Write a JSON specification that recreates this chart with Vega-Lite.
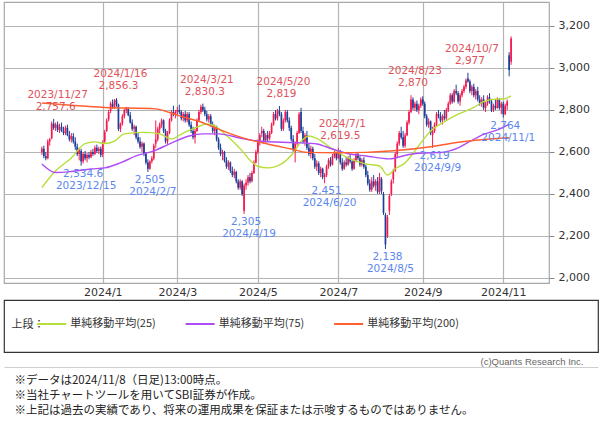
{
"$schema":"https://vega.github.io/schema/vega-lite/v6.json",
"background":"white",
"padding":{"left":3,"top":1,"right":0,"bottom":0},
"spacing":1,
"config":{"font":"DejaVu Sans"},
"title":{"text":["※データは2024/11/8（日足)13:00時点。","※当社チャートツールを用いてSBI証券が作成。","※上記は過去の実績であり、将来の運用成果を保証または示唆するものではありません。"],"orient":"bottom","anchor":"start","offset":7,"dx":11,"font":"Noto Sans CJK JP","fontSize":11.5,"fontWeight":"normal","color":"#222","lineHeight":15},
"datasets":{
"k":[
{"t":0,"o":2600,"h":2625,"l":2585,"c":2615},{"t":1,"o":2615,"h":2630,"l":2570,"c":2580},{"t":2,"o":2580,"h":2600,"l":2560,"c":2570},{"t":3,"o":2570,"h":2660,"l":2565,"c":2650},{"t":4,"o":2650,"h":2667,"l":2630,"c":2660},{"t":5,"o":2665,"h":2745,"l":2660,"c":2735},{"t":6,"o":2735,"h":2757.6,"l":2705,"c":2715},{"t":7,"o":2715,"h":2740,"l":2700,"c":2730},{"t":8,"o":2730,"h":2745,"l":2695,"c":2705},{"t":9,"o":2705,"h":2735,"l":2690,"c":2720},
{"t":10,"o":2720,"h":2740,"l":2695,"c":2700},{"t":11,"o":2700,"h":2720,"l":2680,"c":2690},{"t":12,"o":2690,"h":2725,"l":2680,"c":2715},{"t":13,"o":2715,"h":2730,"l":2675,"c":2680},{"t":14,"o":2680,"h":2700,"l":2650,"c":2660},{"t":15,"o":2660,"h":2690,"l":2645,"c":2675},{"t":16,"o":2675,"h":2690,"l":2640,"c":2650},{"t":17,"o":2650,"h":2670,"l":2610,"c":2625},{"t":18,"o":2625,"h":2640,"l":2580,"c":2590},{"t":19,"o":2590,"h":2620,"l":2560,"c":2610},
{"t":20,"o":2605,"h":2615,"l":2534.6,"c":2555},{"t":21,"o":2555,"h":2600,"l":2545,"c":2590},{"t":22,"o":2590,"h":2605,"l":2560,"c":2570},{"t":23,"o":2570,"h":2595,"l":2550,"c":2585},{"t":24,"o":2585,"h":2600,"l":2565,"c":2575},{"t":25,"o":2575,"h":2610,"l":2570,"c":2600},{"t":26,"o":2600,"h":2615,"l":2580,"c":2590},{"t":27,"o":2590,"h":2630,"l":2585,"c":2620},{"t":28,"o":2620,"h":2635,"l":2595,"c":2605},{"t":29,"o":2605,"h":2625,"l":2590,"c":2615},
{"t":30,"o":2615,"h":2625,"l":2575,"c":2585},{"t":31,"o":2590,"h":2655,"l":2575,"c":2645},{"t":32,"o":2650,"h":2705,"l":2640,"c":2695},{"t":33,"o":2700,"h":2760,"l":2695,"c":2750},{"t":34,"o":2755,"h":2800,"l":2745,"c":2790},{"t":35,"o":2795,"h":2840,"l":2785,"c":2830},{"t":36,"o":2830,"h":2850,"l":2805,"c":2815},{"t":37,"o":2815,"h":2852,"l":2805,"c":2845},{"t":38,"o":2848,"h":2856.3,"l":2815,"c":2825},{"t":39,"o":2825,"h":2830,"l":2700,"c":2710},
{"t":40,"o":2710,"h":2740,"l":2695,"c":2735},{"t":41,"o":2735,"h":2780,"l":2725,"c":2770},{"t":42,"o":2770,"h":2805,"l":2760,"c":2800},{"t":43,"o":2800,"h":2815,"l":2785,"c":2810},{"t":44,"o":2805,"h":2812,"l":2770,"c":2775},{"t":45,"o":2775,"h":2790,"l":2735,"c":2740},{"t":46,"o":2740,"h":2755,"l":2700,"c":2710},{"t":47,"o":2710,"h":2730,"l":2680,"c":2720},{"t":48,"o":2720,"h":2725,"l":2660,"c":2670},{"t":49,"o":2670,"h":2690,"l":2640,"c":2650},
{"t":50,"o":2650,"h":2670,"l":2615,"c":2625},{"t":51,"o":2625,"h":2650,"l":2600,"c":2640},{"t":52,"o":2640,"h":2645,"l":2580,"c":2590},{"t":53,"o":2590,"h":2600,"l":2540,"c":2550},{"t":54,"o":2550,"h":2565,"l":2505,"c":2520},{"t":55,"o":2520,"h":2560,"l":2515,"c":2555},{"t":56,"o":2555,"h":2580,"l":2545,"c":2570},{"t":57,"o":2570,"h":2640,"l":2560,"c":2630},{"t":58,"o":2640,"h":2750,"l":2620,"c":2660},{"t":59,"o":2660,"h":2720,"l":2650,"c":2710},
{"t":60,"o":2710,"h":2740,"l":2690,"c":2730},{"t":61,"o":2730,"h":2760,"l":2715,"c":2750},{"t":62,"o":2750,"h":2755,"l":2690,"c":2700},{"t":63,"o":2700,"h":2710,"l":2640,"c":2650},{"t":64,"o":2650,"h":2700,"l":2635,"c":2690},{"t":65,"o":2690,"h":2760,"l":2685,"c":2750},{"t":66,"o":2750,"h":2800,"l":2745,"c":2790},{"t":67,"o":2790,"h":2820,"l":2770,"c":2780},{"t":68,"o":2780,"h":2800,"l":2760,"c":2790},{"t":69,"o":2790,"h":2815,"l":2770,"c":2800},
{"t":70,"o":2800,"h":2825,"l":2780,"c":2790},{"t":71,"o":2790,"h":2800,"l":2750,"c":2760},{"t":72,"o":2760,"h":2790,"l":2745,"c":2780},{"t":73,"o":2780,"h":2795,"l":2740,"c":2750},{"t":74,"o":2750,"h":2790,"l":2740,"c":2780},{"t":75,"o":2780,"h":2790,"l":2720,"c":2730},{"t":76,"o":2730,"h":2745,"l":2690,"c":2700},{"t":77,"o":2700,"h":2720,"l":2660,"c":2670},{"t":78,"o":2670,"h":2710,"l":2640,"c":2700},{"t":79,"o":2700,"h":2760,"l":2695,"c":2750},
{"t":80,"o":2750,"h":2800,"l":2745,"c":2790},{"t":81,"o":2790,"h":2825,"l":2780,"c":2815},{"t":82,"o":2815,"h":2830.3,"l":2790,"c":2800},{"t":83,"o":2800,"h":2815,"l":2770,"c":2780},{"t":84,"o":2780,"h":2795,"l":2745,"c":2755},{"t":85,"o":2755,"h":2780,"l":2740,"c":2770},{"t":86,"o":2770,"h":2780,"l":2720,"c":2730},{"t":87,"o":2730,"h":2745,"l":2690,"c":2700},{"t":88,"o":2700,"h":2730,"l":2680,"c":2720},{"t":89,"o":2720,"h":2725,"l":2650,"c":2660},
{"t":90,"o":2660,"h":2670,"l":2610,"c":2620},{"t":91,"o":2620,"h":2640,"l":2580,"c":2590},{"t":92,"o":2590,"h":2610,"l":2560,"c":2600},{"t":93,"o":2600,"h":2605,"l":2550,"c":2560},{"t":94,"o":2560,"h":2575,"l":2520,"c":2530},{"t":95,"o":2530,"h":2560,"l":2515,"c":2550},{"t":96,"o":2550,"h":2555,"l":2500,"c":2510},{"t":97,"o":2510,"h":2530,"l":2480,"c":2490},{"t":98,"o":2490,"h":2520,"l":2475,"c":2505},{"t":99,"o":2505,"h":2510,"l":2450,"c":2460},
{"t":100,"o":2460,"h":2470,"l":2420,"c":2430},{"t":101,"o":2430,"h":2470,"l":2420,"c":2460},{"t":102,"o":2460,"h":2465,"l":2390,"c":2400},{"t":103,"o":2320,"h":2450,"l":2305,"c":2440},{"t":104,"o":2440,"h":2470,"l":2420,"c":2455},{"t":105,"o":2455,"h":2490,"l":2440,"c":2480},{"t":106,"o":2480,"h":2500,"l":2450,"c":2460},{"t":107,"o":2460,"h":2510,"l":2455,"c":2500},{"t":108,"o":2500,"h":2560,"l":2495,"c":2550},{"t":109,"o":2550,"h":2610,"l":2545,"c":2600},
{"t":110,"o":2600,"h":2660,"l":2590,"c":2650},{"t":111,"o":2650,"h":2690,"l":2630,"c":2680},{"t":112,"o":2690,"h":2720,"l":2670,"c":2700},{"t":113,"o":2700,"h":2710,"l":2640,"c":2655},{"t":114,"o":2655,"h":2690,"l":2640,"c":2680},{"t":115,"o":2680,"h":2700,"l":2650,"c":2665},{"t":116,"o":2665,"h":2700,"l":2655,"c":2690},{"t":117,"o":2690,"h":2740,"l":2685,"c":2730},{"t":118,"o":2730,"h":2790,"l":2725,"c":2780},{"t":119,"o":2780,"h":2800,"l":2750,"c":2760},
{"t":120,"o":2760,"h":2805,"l":2750,"c":2795},{"t":121,"o":2795,"h":2819,"l":2770,"c":2780},{"t":122,"o":2780,"h":2790,"l":2700,"c":2710},{"t":123,"o":2710,"h":2760,"l":2700,"c":2750},{"t":124,"o":2750,"h":2800,"l":2740,"c":2790},{"t":125,"o":2790,"h":2800,"l":2740,"c":2750},{"t":126,"o":2750,"h":2765,"l":2700,"c":2715},{"t":127,"o":2715,"h":2725,"l":2650,"c":2660},{"t":128,"o":2660,"h":2680,"l":2600,"c":2610},{"t":129,"o":2600,"h":2650,"l":2550,"c":2640},
{"t":130,"o":2640,"h":2700,"l":2630,"c":2690},{"t":131,"o":2690,"h":2790,"l":2685,"c":2780},{"t":132,"o":2790,"h":2810,"l":2690,"c":2700},{"t":133,"o":2700,"h":2720,"l":2640,"c":2650},{"t":134,"o":2650,"h":2690,"l":2630,"c":2680},{"t":135,"o":2680,"h":2700,"l":2610,"c":2620},{"t":136,"o":2620,"h":2640,"l":2580,"c":2590},{"t":137,"o":2590,"h":2630,"l":2570,"c":2615},{"t":138,"o":2615,"h":2625,"l":2560,"c":2570},{"t":139,"o":2570,"h":2590,"l":2520,"c":2530},
{"t":140,"o":2530,"h":2560,"l":2510,"c":2545},{"t":141,"o":2545,"h":2555,"l":2490,"c":2500},{"t":142,"o":2500,"h":2530,"l":2480,"c":2520},{"t":143,"o":2520,"h":2525,"l":2470,"c":2480},{"t":144,"o":2480,"h":2500,"l":2451,"c":2490},{"t":145,"o":2490,"h":2540,"l":2480,"c":2530},{"t":146,"o":2530,"h":2570,"l":2520,"c":2560},{"t":147,"o":2560,"h":2575,"l":2530,"c":2540},{"t":148,"o":2540,"h":2590,"l":2535,"c":2580},{"t":149,"o":2580,"h":2610,"l":2570,"c":2600},
{"t":150,"o":2600,"h":2605,"l":2560,"c":2570},{"t":151,"o":2570,"h":2619.5,"l":2565,"c":2605},{"t":152,"o":2605,"h":2610,"l":2540,"c":2550},{"t":153,"o":2550,"h":2570,"l":2510,"c":2520},{"t":154,"o":2520,"h":2560,"l":2515,"c":2550},{"t":155,"o":2550,"h":2575,"l":2530,"c":2540},{"t":156,"o":2540,"h":2580,"l":2535,"c":2570},{"t":157,"o":2570,"h":2590,"l":2545,"c":2555},{"t":158,"o":2555,"h":2560,"l":2510,"c":2520},{"t":159,"o":2520,"h":2570,"l":2515,"c":2560},
{"t":160,"o":2560,"h":2600,"l":2550,"c":2590},{"t":161,"o":2590,"h":2600,"l":2560,"c":2570},{"t":162,"o":2570,"h":2580,"l":2530,"c":2540},{"t":163,"o":2540,"h":2570,"l":2530,"c":2560},{"t":164,"o":2560,"h":2575,"l":2520,"c":2530},{"t":165,"o":2530,"h":2540,"l":2480,"c":2490},{"t":166,"o":2490,"h":2510,"l":2440,"c":2450},{"t":167,"o":2450,"h":2470,"l":2410,"c":2420},{"t":168,"o":2420,"h":2480,"l":2410,"c":2460},{"t":169,"o":2460,"h":2490,"l":2430,"c":2440},
{"t":170,"o":2440,"h":2470,"l":2415,"c":2460},{"t":171,"o":2460,"h":2480,"l":2400,"c":2410},{"t":172,"o":2410,"h":2500,"l":2400,"c":2480},{"t":173,"o":2470,"h":2480,"l":2400,"c":2415},{"t":174,"o":2400,"h":2410,"l":2300,"c":2310},{"t":175,"o":2300,"h":2310,"l":2138,"c":2160},{"t":176,"o":2200,"h":2300,"l":2190,"c":2290},{"t":177,"o":2320,"h":2400,"l":2300,"c":2390},{"t":178,"o":2400,"h":2470,"l":2390,"c":2460},{"t":179,"o":2470,"h":2520,"l":2450,"c":2510},
{"t":180,"o":2510,"h":2600,"l":2505,"c":2590},{"t":181,"o":2590,"h":2650,"l":2575,"c":2640},{"t":182,"o":2640,"h":2700,"l":2630,"c":2690},{"t":183,"o":2690,"h":2720,"l":2660,"c":2670},{"t":184,"o":2670,"h":2700,"l":2620,"c":2630},{"t":185,"o":2630,"h":2690,"l":2620,"c":2680},{"t":186,"o":2680,"h":2750,"l":2675,"c":2740},{"t":187,"o":2740,"h":2800,"l":2730,"c":2790},{"t":188,"o":2790,"h":2870,"l":2785,"c":2850},{"t":189,"o":2850,"h":2860,"l":2800,"c":2810},
{"t":190,"o":2810,"h":2840,"l":2795,"c":2830},{"t":191,"o":2830,"h":2845,"l":2790,"c":2800},{"t":192,"o":2800,"h":2830,"l":2780,"c":2820},{"t":193,"o":2820,"h":2860,"l":2810,"c":2850},{"t":194,"o":2850,"h":2865,"l":2820,"c":2830},{"t":195,"o":2830,"h":2840,"l":2760,"c":2770},{"t":196,"o":2770,"h":2780,"l":2720,"c":2730},{"t":197,"o":2730,"h":2760,"l":2715,"c":2745},{"t":198,"o":2745,"h":2750,"l":2680,"c":2690},{"t":199,"o":2680,"h":2720,"l":2619,"c":2700},
{"t":200,"o":2700,"h":2740,"l":2690,"c":2730},{"t":201,"o":2730,"h":2790,"l":2720,"c":2780},{"t":202,"o":2780,"h":2800,"l":2760,"c":2770},{"t":203,"o":2770,"h":2790,"l":2740,"c":2750},{"t":204,"o":2750,"h":2780,"l":2730,"c":2770},{"t":205,"o":2770,"h":2800,"l":2750,"c":2760},{"t":206,"o":2760,"h":2810,"l":2750,"c":2800},{"t":207,"o":2800,"h":2840,"l":2790,"c":2830},{"t":208,"o":2830,"h":2880,"l":2825,"c":2870},{"t":209,"o":2870,"h":2880,"l":2830,"c":2840},
{"t":210,"o":2840,"h":2900,"l":2835,"c":2890},{"t":211,"o":2890,"h":2920,"l":2870,"c":2880},{"t":212,"o":2880,"h":2890,"l":2830,"c":2840},{"t":213,"o":2840,"h":2880,"l":2820,"c":2870},{"t":214,"o":2870,"h":2900,"l":2860,"c":2890},{"t":215,"o":2890,"h":2920,"l":2880,"c":2910},{"t":216,"o":2910,"h":2950,"l":2900,"c":2940},{"t":217,"o":2950,"h":2977,"l":2930,"c":2935},{"t":218,"o":2935,"h":2945,"l":2880,"c":2890},{"t":219,"o":2890,"h":2920,"l":2870,"c":2910},
{"t":220,"o":2910,"h":2925,"l":2860,"c":2870},{"t":221,"o":2870,"h":2900,"l":2850,"c":2890},{"t":222,"o":2890,"h":2910,"l":2840,"c":2850},{"t":223,"o":2850,"h":2870,"l":2820,"c":2830},{"t":224,"o":2830,"h":2860,"l":2815,"c":2850},{"t":225,"o":2850,"h":2870,"l":2800,"c":2810},{"t":226,"o":2810,"h":2840,"l":2790,"c":2830},{"t":227,"o":2830,"h":2870,"l":2820,"c":2860},{"t":228,"o":2860,"h":2880,"l":2830,"c":2840},{"t":229,"o":2840,"h":2850,"l":2790,"c":2800},
{"t":230,"o":2800,"h":2830,"l":2790,"c":2820},{"t":231,"o":2820,"h":2850,"l":2800,"c":2810},{"t":232,"o":2810,"h":2860,"l":2805,"c":2850},{"t":233,"o":2850,"h":2855,"l":2800,"c":2810},{"t":234,"o":2810,"h":2840,"l":2780,"c":2830},{"t":235,"o":2830,"h":2840,"l":2764,"c":2780},{"t":236,"o":2780,"h":2830,"l":2775,"c":2820},{"t":237,"o":2820,"h":2850,"l":2800,"c":2840},{"t":238,"o":3060,"h":3075,"l":2960,"c":2990},{"t":239,"o":3030,"h":3150,"l":3015,"c":3140}
],
"ma":[
{"s":"25","t":0,"v":2430},{"s":"25","t":7,"v":2510},{"s":"25","t":15,"v":2571},{"s":"25","t":22,"v":2640},{"s":"25","t":27,"v":2648},{"s":"25","t":32,"v":2640},{"s":"25","t":37,"v":2652},{"s":"25","t":42,"v":2686},{"s":"25","t":52,"v":2693},{"s":"25","t":60,"v":2686},{"s":"25","t":66,"v":2662},{"s":"25","t":72,"v":2690},{"s":"25","t":80,"v":2722},{"s":"25","t":84,"v":2733},{"s":"25","t":88,"v":2724},{"s":"25","t":95,"v":2670},{"s":"25","t":102,"v":2605},{"s":"25","t":106,"v":2560},{"s":"25","t":110,"v":2532},{"s":"25","t":115,"v":2524},{"s":"25","t":122,"v":2543},{"s":"25","t":128,"v":2595},{"s":"25","t":132,"v":2650},{"s":"25","t":136,"v":2676},{"s":"25","t":140,"v":2665},{"s":"25","t":148,"v":2614},{"s":"25","t":157,"v":2567},{"s":"25","t":165,"v":2543},{"s":"25","t":172,"v":2533},{"s":"25","t":176,"v":2490},{"s":"25","t":180,"v":2520},{"s":"25","t":185,"v":2548},{"s":"25","t":190,"v":2605},{"s":"25","t":195,"v":2667},{"s":"25","t":198,"v":2700},{"s":"25","t":204,"v":2738},{"s":"25","t":210,"v":2771},{"s":"25","t":220,"v":2812},{"s":"25","t":225,"v":2840},{"s":"25","t":232,"v":2852},{"s":"25","t":235,"v":2852},{"s":"25","t":239,"v":2867},
{"s":"75","t":0,"v":2543},{"s":"75","t":7,"v":2502},{"s":"75","t":15,"v":2507},{"s":"75","t":25,"v":2519},{"s":"75","t":32,"v":2524},{"s":"75","t":40,"v":2548},{"s":"75","t":48,"v":2581},{"s":"75","t":57,"v":2605},{"s":"75","t":65,"v":2638},{"s":"75","t":75,"v":2676},{"s":"75","t":82,"v":2686},{"s":"75","t":90,"v":2686},{"s":"75","t":102,"v":2664},{"s":"75","t":110,"v":2652},{"s":"75","t":132,"v":2643},{"s":"75","t":140,"v":2638},{"s":"75","t":148,"v":2614},{"s":"75","t":157,"v":2590},{"s":"75","t":165,"v":2581},{"s":"75","t":177,"v":2567},{"s":"75","t":187,"v":2588},{"s":"75","t":195,"v":2595},{"s":"75","t":203,"v":2597},{"s":"75","t":212,"v":2619},{"s":"75","t":218,"v":2650},{"s":"75","t":225,"v":2684},{"s":"75","t":232,"v":2705},{"s":"75","t":238,"v":2733},
{"s":"200","t":0,"v":2833},{"s":"200","t":32,"v":2812},{"s":"200","t":58,"v":2805},{"s":"200","t":65,"v":2788},{"s":"200","t":72,"v":2766},{"s":"200","t":80,"v":2746},{"s":"200","t":88,"v":2716},{"s":"200","t":98,"v":2680},{"s":"200","t":105,"v":2660},{"s":"200","t":115,"v":2638},{"s":"200","t":127,"v":2614},{"s":"200","t":135,"v":2598},{"s":"200","t":150,"v":2596},{"s":"200","t":165,"v":2598},{"s":"200","t":182,"v":2608},{"s":"200","t":198,"v":2625},{"s":"200","t":215,"v":2650},{"s":"200","t":228,"v":2662},{"s":"200","t":238,"v":2668}
],
"hi":[
{"t":6,"v":2757.6,"d":"2023/11/27"},{"t":38,"v":2856.3,"d":"2024/1/16"},{"t":82,"v":2830.3,"d":"2024/3/21"},{"t":121,"v":2819,"d":"2024/5/20"},{"t":151,"v":2619.5,"d":"2024/7/1"},{"t":188,"v":2870,"d":"2024/8/23"},{"t":217,"v":2977,"d":"2024/10/7"}
],
"lo":[
{"t":20,"v":2534.6,"d":"2023/12/15"},{"t":54,"v":2505,"d":"2024/2/7"},{"t":103,"v":2305,"d":"2024/4/19"},{"t":144,"v":2451,"d":"2024/6/20"},{"t":175,"v":2138,"d":"2024/8/5"},{"t":199,"v":2619,"d":"2024/9/9"},{"t":235,"v":2764,"d":"2024/11/1"}
],
"leg":[{"s":"単純移動平均(25)"},{"s":"単純移動平均(75)"},{"s":"単純移動平均(200)"}]
},
"vconcat":[
{
"width":545,"height":281,
"view":{"stroke":"#a8a8a8","strokeWidth":1.2},
"layer":[
{"data":{"name":"k"},"mark":{"type":"rule","strokeWidth":1},
"encoding":{
"x":{"field":"t","type":"quantitative","title":null,"scale":{"domain":[-16.75,255.75],"nice":false,"zero":false},"axis":{"values":[31,69,110,151,194,235],"labelExpr":"datum.value==31?'2024/1':datum.value==69?'2024/3':datum.value==110?'2024/5':datum.value==151?'2024/7':datum.value==194?'2024/9':'2024/11'","grid":true,"gridColor":"#b4b4b4","gridWidth":1.2,"ticks":false,"domain":false,"labelPadding":3,"labelFontSize":11,"labelColor":"#333","labelFont":"DejaVu Sans"}},
"y":{"field":"l","type":"quantitative","title":null,"scale":{"domain":[1976,3314],"nice":false,"zero":false},"axis":{"orient":"right","values":[2000,2200,2400,2600,2800,3000,3200],"labelExpr":"format(datum.value, ',')","grid":true,"gridColor":"#b4b4b4","gridWidth":1.2,"domain":false,"tickSize":5,"tickColor":"#888","labelPadding":4,"labelFontSize":11,"labelColor":"#333","labelFont":"DejaVu Sans"}},"y2":{"field":"h"},
"color":{"condition":{"test":"datum.c >= datum.o","value":"#f5194d"},"value":"#1d3f98"}}},
{"data":{"name":"k"},"mark":{"type":"bar","width":1.7},
"encoding":{"x":{"field":"t","type":"quantitative","title":null},"y":{"field":"o","type":"quantitative","title":null},"y2":{"field":"c"},
"color":{"condition":{"test":"datum.c >= datum.o","value":"#f5194d"},"value":"#1d3f98"}}},
{"data":{"name":"ma"},"mark":{"type":"line","strokeWidth":1.4,"interpolate":"monotone"},
"encoding":{"x":{"field":"t","type":"quantitative","title":null},"y":{"field":"v","type":"quantitative","title":null},"color":{"field":"s","type":"nominal","scale":{"domain":["25","75","200"],"range":["#b5de3a","#b04cf5","#ff5f2e"]},"legend":null}}},
{"data":{"name":"hi"},"mark":{"type":"text","dy":-24,"dx":4,"fontSize":10.5,"color":"#e0525a","baseline":"middle","font":"DejaVu Sans"},
"encoding":{"x":{"field":"t","type":"quantitative","title":null},"y":{"field":"v","type":"quantitative","title":null},"text":{"field":"d"}}},
{"data":{"name":"hi"},"mark":{"type":"text","dy":-12,"dx":2,"fontSize":10.5,"color":"#e0525a","baseline":"middle","font":"DejaVu Sans"},
"encoding":{"x":{"field":"t","type":"quantitative","title":null},"y":{"field":"v","type":"quantitative","title":null},"text":{"field":"v","format":","}}},
{"data":{"name":"lo"},"mark":{"type":"text","dy":8,"dx":2,"fontSize":10.5,"color":"#5b87ee","baseline":"middle","font":"DejaVu Sans"},
"encoding":{"x":{"field":"t","type":"quantitative","title":null},"y":{"field":"v","type":"quantitative","title":null},"text":{"field":"v","format":","}}},
{"data":{"name":"lo"},"mark":{"type":"text","dy":20,"dx":5,"fontSize":10.5,"color":"#5b87ee","baseline":"middle","font":"DejaVu Sans"},
"encoding":{"x":{"field":"t","type":"quantitative","title":null},"y":{"field":"v","type":"quantitative","title":null},"text":{"field":"d"}}}
]
},
{
"width":594,"height":52,
"view":{"stroke":"#333","strokeWidth":1.2},
"data":{"name":"leg"},
"layer":[
{"mark":{"type":"point","shape":"stroke","size":841,"strokeWidth":2,"opacity":1,"filled":false},
"encoding":{
"x":{"field":"s","type":"nominal","sort":null,"title":"(c)Quants Research Inc.","scale":{"type":"point","padding":1.1758,"align":0.1604},
"axis":{"orient":"bottom","offset":15,"labels":false,"ticks":false,"grid":false,"domain":true,"domainColor":"#cfcfcf","domainWidth":1,"titleX":579,"titleY":-3,"titleAlign":"right","titleBaseline":"alphabetic","titleFont":"Liberation Sans","titleFontSize":9.5,"titleFontWeight":"normal","titleColor":"#666"}},
"y":{"datum":0,"type":"quantitative","scale":{"domain":[-1.1667,1],"nice":false,"zero":false},
"axis":{"title":"上段：","orient":"left","labels":false,"ticks":false,"grid":false,"domain":false,"titleAngle":0,"titleX":7,"titleY":24,"titleAlign":"left","titleBaseline":"middle","titleFont":"Noto Sans CJK JP","titleFontSize":11,"titleFontWeight":"normal","titleColor":"#333"}},
"color":{"field":"s","type":"nominal","sort":null,"scale":{"domain":["単純移動平均(25)","単純移動平均(75)","単純移動平均(200)"],"range":["#b5de3a","#b04cf5","#ff5f2e"]},"legend":null}}},
{"mark":{"type":"text","align":"left","dx":18.5,"baseline":"middle","font":"Noto Sans CJK JP","fontSize":11,"color":"#333"},
"encoding":{"x":{"field":"s","type":"nominal","sort":null,"title":"(c)Quants Research Inc."},"y":{"datum":0,"type":"quantitative","axis":{"title":"上段："}},"text":{"field":"s"}}}
]
}
]
}
